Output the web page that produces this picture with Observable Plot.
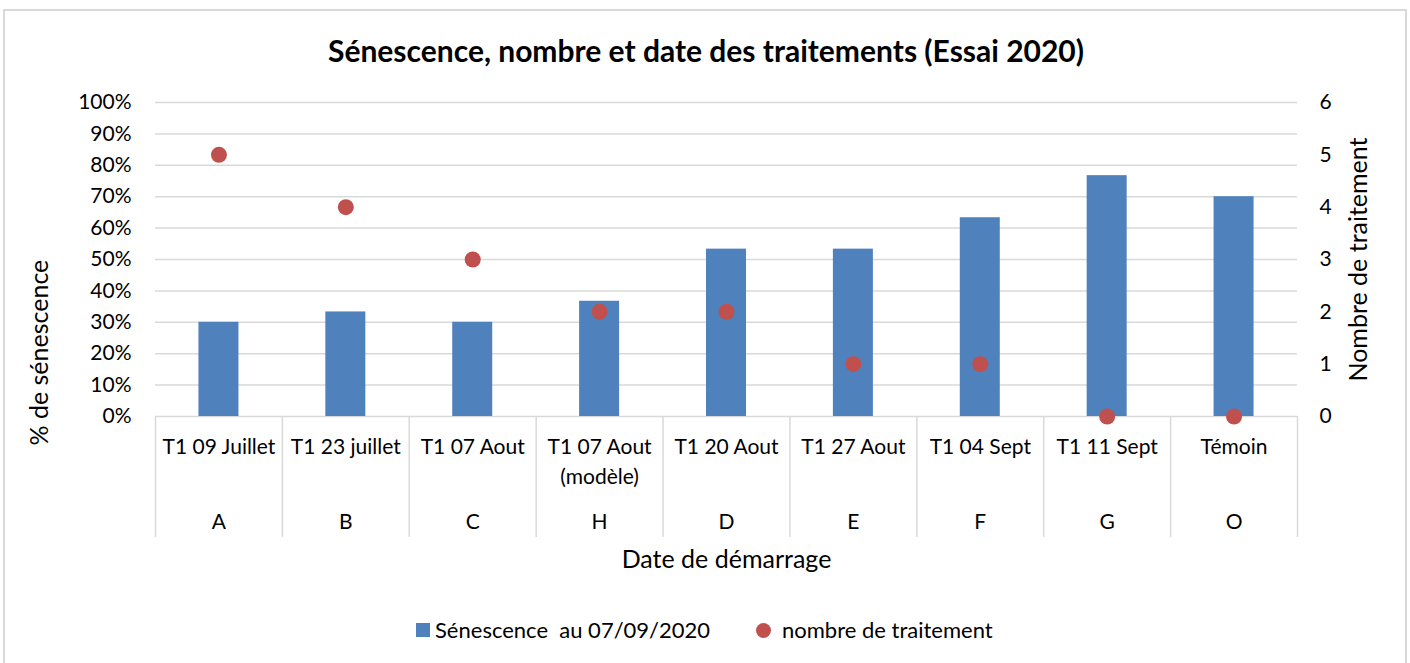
<!DOCTYPE html>
<html><head><meta charset="utf-8">
<script src="https://cdn.jsdelivr.net/npm/d3@7"></script>
<script src="https://cdn.jsdelivr.net/npm/@observablehq/plot@0.6"></script>
<style>
body{margin:0;background:#fff;font-family:Lato,"Open Sans",sans-serif;color:#000;}
#wrap{position:relative;width:1410px;height:663px;overflow:hidden;background:#fff;}
#border{position:absolute;left:3px;top:9px;width:1404px;height:670px;border:2px solid #d9d9d9;box-sizing:border-box;}
#title{position:absolute;top:32px;left:0;width:1412px;text-align:center;font-weight:bold;font-size:30px;line-height:36px;}
#chart{position:absolute;left:0;top:80px;}
#legend{position:absolute;top:616px;left:0;width:1410px;height:28px;font-size:22px;line-height:28px;}
.li{position:absolute;top:0;white-space:pre;}
.sq{display:inline-block;width:14px;height:14px;background:#4f81bd;vertical-align:middle;margin-right:5px;position:relative;top:-2px;}
.ci{display:inline-block;width:15px;height:15px;border-radius:50%;background:#c0504d;vertical-align:middle;margin-right:11px;position:relative;top:-2px;}
</style></head>
<body>
<div id="wrap">
<div id="border"></div>
<div id="title">Sénescence, nombre et date des traitements (Essai 2020)</div>
<div id="chart"></div>
<div id="legend">
<span class="li" style="left:416px"><span class="sq"></span>Sénescence  au 07/09/2020</span>
<span class="li" style="left:756px"><span class="ci"></span>nombre de traitement</span>
</div>
</div>
<script>
const codes = ["A","B","C","H","D","E","F","G","O"];
const dateLabels = ["T1 09 Juillet","T1 23 juillet","T1 07 Aout","T1 07 Aout\n(modèle)","T1 20 Aout","T1 27 Aout","T1 04 Sept","T1 11 Sept","Témoin"];
const senescence = [0.30,0.333,0.30,0.367,0.533,0.533,0.633,0.767,0.70];
const nbTraitements = [5,4,3,2,2,1,1,0,0];
const leftTicks = [0,0.1,0.2,0.3,0.4,0.5,0.6,0.7,0.8,0.9,1];
const rightTicks = [0,1,2,3,4,5,6];

const data = codes.map((c,i)=>({code:c, label:dateLabels[i], sen:senescence[i], n:nbTraitements[i]}));
const labelOf = Object.fromEntries(codes.map((c,i)=>[c, dateLabels[i]]));
const maxN = rightTicks[rightTicks.length-1];

const W=1410, H=500, mL=155, mR=113, mT=22, mB=164;
const step=(W-mL-mR)/codes.length;
const barW=40;
const gray="#d9d9d9";

const chart = Plot.plot({
  width:W, height:H, marginLeft:mL, marginRight:mR, marginTop:mT, marginBottom:mB,
  style:{fontFamily:"Lato, 'Open Sans', sans-serif", fontSize:"21px", color:"#000", background:"transparent", overflow:"visible"},
  x:{type:"band", domain:codes, padding:0, round:false, axis:null},
  y:{domain:[0,1], axis:null},
  marks:[
    Plot.gridY(leftTicks, {stroke:gray, strokeOpacity:1, strokeWidth:1.5}),
    Plot.barY(data, {x:"code", y:"sen", fill:"#4f81bd", insetLeft:(step-barW)/2, insetRight:(step-barW)/2}),
    Plot.dot(data, {x:"code", y:d=>d.n/maxN, r:8, fill:"#c0504d", stroke:"none"}),
    Plot.axisY({ticks:leftTicks, tickFormat:d3.format(".0%"), tickSize:0, tickPadding:24, label:null, fontSize:21}),
    Plot.axisY({anchor:"right", ticks:rightTicks.map(v=>v/maxN), tickFormat:d=>String(Math.round(d*maxN)), tickSize:0, tickPadding:22, label:null, fontSize:21}),
    Plot.axisX({tickSize:0, tickPadding:16, tickFormat:c=>labelOf[c], label:null, fontSize:21, lineHeight:1.43}),
    Plot.axisX({tickSize:0, tickPadding:98, label:null, fontSize:21}),
    Plot.axisX({tickSize:121, stroke:gray, strokeWidth:1.5, fill:"none", dx:-step/2, label:null}),
    Plot.axisX({ticks:[codes[codes.length-1]], tickSize:121, stroke:gray, strokeWidth:1.5, fill:"none", dx:step/2, label:null}),
    Plot.text(["Date de démarrage"], {text:d=>d, frameAnchor:"bottom", dy:151, fontSize:25}),
    Plot.text(["% de sénescence"], {text:d=>d, frameAnchor:"bottom-left", rotate:-90, textAnchor:"start", dx:-108, dy:29, fontSize:25}),
    Plot.text(["Nombre de traitement"], {text:d=>d, frameAnchor:"right", rotate:-90, textAnchor:"middle", dx:61, fontSize:25})
  ]
});
document.getElementById("chart").appendChild(chart);
</script>
</body></html>
